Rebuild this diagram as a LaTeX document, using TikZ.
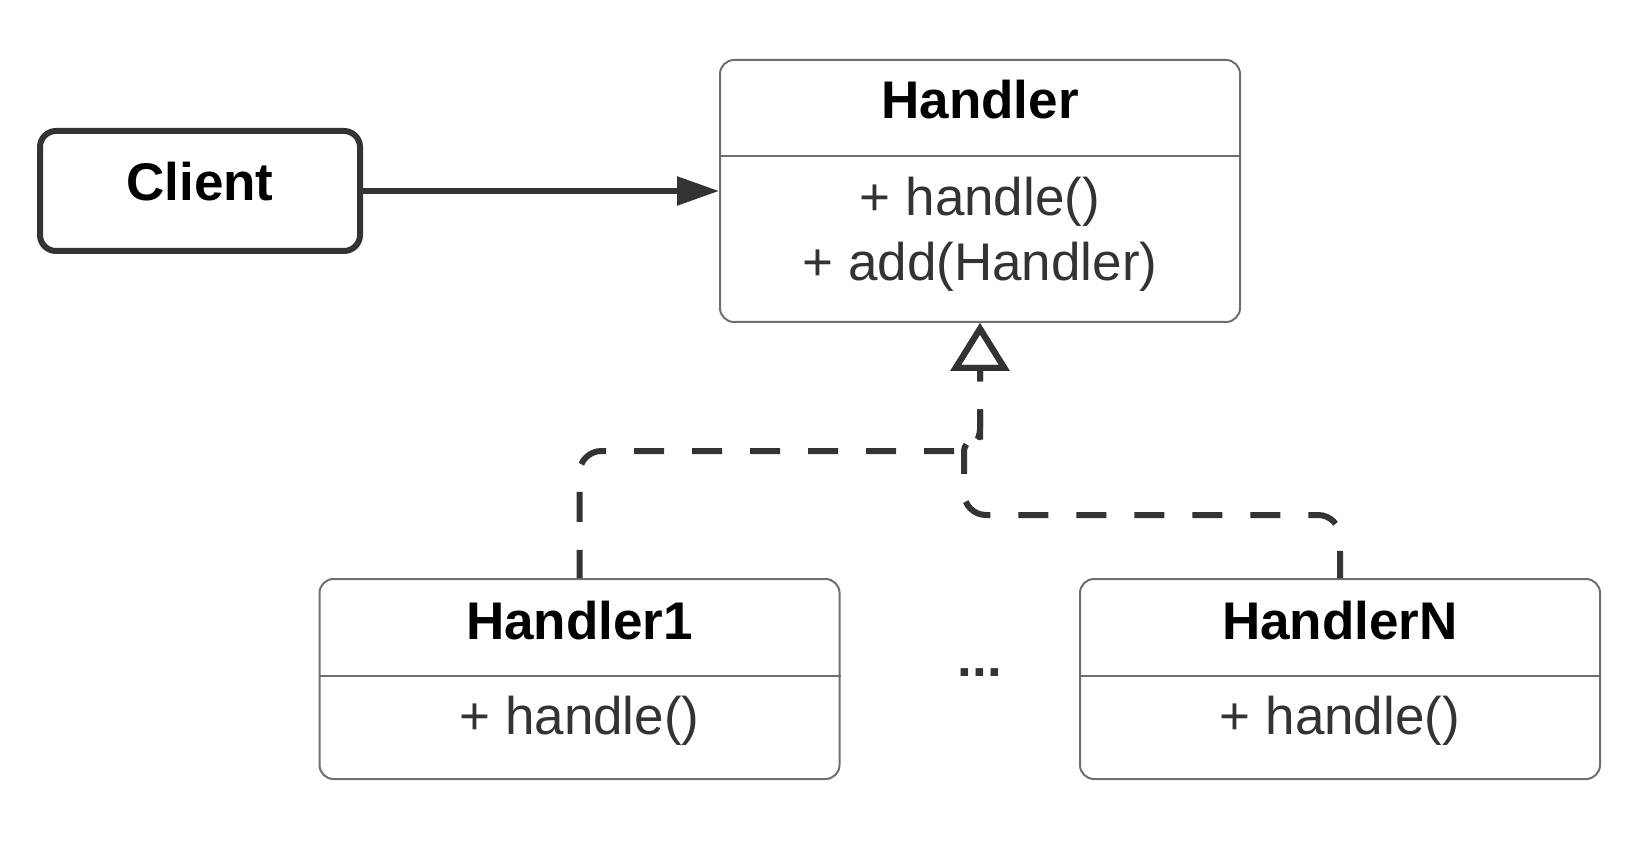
\documentclass[tikz,border=0pt]{standalone}
\usepackage{fontspec}
\setmainfont{Liberation Sans}
\usetikzlibrary{arrows.meta}
\definecolor{ink}{HTML}{333333}
\definecolor{edge}{HTML}{6E6E6E}
\begin{document}
\begin{tikzpicture}[x=1pt,y=-1pt,
  box/.style={draw=edge,line width=2pt,rounded corners=14pt,minimum width=520pt,inner sep=0pt},
  title/.style={anchor=base,font=\fontsize{53}{60}\selectfont\bfseries},
  member/.style={anchor=base,text=ink,font=\fontsize{53}{60}\selectfont},
  link/.style={draw=ink,line width=6pt,dash pattern=on 30pt off 28pt,dash phase=18pt,rounded corners=22pt},
  realizes/.style={{Triangle[open,length=48pt,width=58pt]}-}]
\useasboundingbox (0,0) rectangle (1652,866);
\node[draw=ink,line width=6pt,rounded corners=16pt,minimum width=320pt,minimum height=120pt] (client) at (200,191) {};
\node[box,minimum height=262pt] (handler) at (980,191) {};
\node[box,minimum height=200pt] (h1) at (579.5,679) {};
\node[box,minimum height=200pt] (hN) at (1340,679) {};
\draw[edge,line width=2pt] (handler.west |- 0,156) -- (handler.east |- 0,156);
\draw[edge,line width=2pt] (h1.west |- 0,676) -- (h1.east |- 0,676);
\draw[edge,line width=2pt] (hN.west |- 0,676) -- (hN.east |- 0,676);
\node[title] (clientname) at (200,201) {Client};
\node[title] (handlername) at (980,119) {Handler};
\node[member] (handlerop) at (980,216) {+ handle()};
\node[member] (handleradd) at (980,281) {+ add(Handler)};
\node[title] (h1name) at (579.5,639) {Handler1};
\node[member] (h1op) at (579.5,734) {+ handle()};
\node[title] (hNname) at (1340,639) {HandlerN};
\node[member] (hNop) at (1340,734) {+ handle()};
\node[title,text=ink] (dots) at (980,676) {...};
\draw[ink,line width=5.5pt,-{Triangle[length=42pt,width=28pt]}] (client) -- (handler);
\draw[link,realizes] (handler.south) -- (980,427) [sharp corners] to[out=-90,in=90] (964,451) [rounded corners=22pt] -- (964,515) -- (1340,515) -- (hN.north);
\draw[link,realizes] (handler.south) -- (980,451) -- (579.5,451) -- (h1.north);
\end{tikzpicture}
\end{document}
